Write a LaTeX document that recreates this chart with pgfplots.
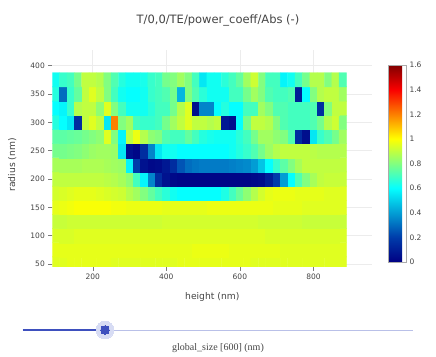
\documentclass[border=0pt]{standalone}
\usepackage{pgfplots}
\pgfplotsset{compat=1.18}
\usepackage{fontspec}
\setmainfont{DejaVu Sans}
\newfontfamily\seriffont{Liberation Serif}
\definecolor{txt}{RGB}{68,68,68}
\definecolor{gridc}{RGB}{236,236,236}
\definecolor{sliderdark}{RGB}{62,80,190}
\definecolor{sliderlight}{RGB}{185,192,232}
\definecolor{halo}{RGB}{215,220,244}
\begin{document}
\begin{tikzpicture}
\path[use as bounding box] (0,0) rectangle (436bp,-357bp);
\begin{axis}[
 at={(52.3bp,-266.8bp)}, anchor=south west,
 width=320bp, height=217bp, scale only axis,
 xmin=90, xmax=960, ymin=45, ymax=428,
 enlargelimits=false,
 xtick={200,400,600,800}, ytick={50,100,150,200,250,300,350,400},
 xtick pos=bottom, ytick pos=left,
 grid=major, major grid style={gridc, line width=0.6bp},
 axis line style={draw=none},
 tick align=outside, major tick length=4bp, tick style={txt!70, line width=0.5bp},
 ticklabel style={font=\fontsize{7.5bp}{9bp}\selectfont, text=txt},
 /pgf/number format/assume math mode=true,
 xlabel={height (nm)}, ylabel={radius (nm)},
 label style={font=\fontsize{9.2bp}{11bp}\selectfont, text=txt},
 xlabel style={at={(axis description cs:0.5,-0.138)}, anchor=center},
 ylabel style={at={(axis description cs:-0.125,0.47)}, anchor=center},
 colormap={pjet}{rgb255(0cm)=(0,0,131); rgb255(1cm)=(0,60,170); rgb255(3cm)=(5,255,255); rgb255(5cm)=(255,255,0); rgb255(7cm)=(250,0,0); rgb255(8cm)=(128,0,0)},
 point meta min=0, point meta max=1.6,
 colorbar,
 colorbar style={
   at={(parent axis.south east)}, anchor=south west, xshift=7.2bp, yshift=4.8bp,
   width=18bp, height=197bp, scale only axis,
   xlabel={}, ylabel={}, grid=none,
   ytick={0,0.2,0.4,0.6,0.8,1,1.2,1.4,1.6},
   yticklabels={0,0.2,0.4,0.6,0.8,1,1.2,1.4,1.6},
   major tick length=0pt,
   axis line style={draw=txt!45, line width=0.6bp},
   yticklabel style={font=\fontsize{7.5bp}{9bp}\selectfont, text=txt},
 },
]
\addplot[matrix plot*, mesh/cols=40, point meta=explicit] coordinates {
(100,50)[.95] (120,50)[.95] (140,50)[.96] (160,50)[.96] (180,50)[.96] (200,50)[.96] (220,50)[.96] (240,50)[.96] (260,50)[.95] (280,50)[.95]
(300,50)[.95] (320,50)[.95] (340,50)[.95] (360,50)[.95] (380,50)[.95] (400,50)[.95] (420,50)[.95] (440,50)[.96] (460,50)[.96] (480,50)[.96]
(500,50)[.96] (520,50)[.96] (540,50)[.96] (560,50)[.96] (580,50)[.96] (600,50)[.96] (620,50)[.96] (640,50)[.95] (660,50)[.95] (680,50)[.95]
(700,50)[.95] (720,50)[.95] (740,50)[.95] (760,50)[.95] (780,50)[.95] (800,50)[.95] (820,50)[.95] (840,50)[.95] (860,50)[.95] (880,50)[.95]

(100,75)[.96] (120,75)[.96] (140,75)[.96] (160,75)[.96] (180,75)[.96] (200,75)[.96] (220,75)[.96] (240,75)[.96] (260,75)[.96] (280,75)[.96]
(300,75)[.96] (320,75)[.96] (340,75)[.96] (360,75)[.96] (380,75)[.96] (400,75)[.96] (420,75)[.96] (440,75)[.96] (460,75)[.96] (480,75)[.97]
(500,75)[.97] (520,75)[.97] (540,75)[.97] (560,75)[.97] (580,75)[.96] (600,75)[.96] (620,75)[.96] (640,75)[.96] (660,75)[.96] (680,75)[.96]
(700,75)[.96] (720,75)[.95] (740,75)[.95] (760,75)[.95] (780,75)[.95] (800,75)[.95] (820,75)[.95] (840,75)[.95] (860,75)[.95] (880,75)[.95]

(100,100)[.94] (120,100)[.94] (140,100)[.94] (160,100)[.95] (180,100)[.95] (200,100)[.95] (220,100)[.95] (240,100)[.95] (260,100)[.95] (280,100)[.95]
(300,100)[.95] (320,100)[.95] (340,100)[.95] (360,100)[.95] (380,100)[.95] (400,100)[.95] (420,100)[.95] (440,100)[.95] (460,100)[.95] (480,100)[.95]
(500,100)[.95] (520,100)[.95] (540,100)[.95] (560,100)[.95] (580,100)[.95] (600,100)[.95] (620,100)[.95] (640,100)[.95] (660,100)[.95] (680,100)[.94]
(700,100)[.94] (720,100)[.94] (740,100)[.94] (760,100)[.94] (780,100)[.94] (800,100)[.94] (820,100)[.94] (840,100)[.94] (860,100)[.94] (880,100)[.94]

(100,125)[.91] (120,125)[.91] (140,125)[.92] (160,125)[.92] (180,125)[.92] (200,125)[.92] (220,125)[.92] (240,125)[.92] (260,125)[.92] (280,125)[.92]
(300,125)[.92] (320,125)[.92] (340,125)[.92] (360,125)[.92] (380,125)[.92] (400,125)[.93] (420,125)[.93] (440,125)[.93] (460,125)[.93] (480,125)[.93]
(500,125)[.93] (520,125)[.93] (540,125)[.93] (560,125)[.93] (580,125)[.93] (600,125)[.93] (620,125)[.93] (640,125)[.93] (660,125)[.92] (680,125)[.92]
(700,125)[.92] (720,125)[.92] (740,125)[.92] (760,125)[.92] (780,125)[.91] (800,125)[.91] (820,125)[.91] (840,125)[.91] (860,125)[.91] (880,125)[.91]

(100,150)[.96] (120,150)[.97] (140,150)[.98] (160,150)[.99] (180,150)[.99] (200,150)[.99] (220,150)[.99] (240,150)[.99] (260,150)[.98] (280,150)[.98]
(300,150)[.97] (320,150)[.97] (340,150)[.97] (360,150)[.97] (380,150)[.97] (400,150)[.96] (420,150)[.96] (440,150)[.96] (460,150)[.96] (480,150)[.96]
(500,150)[.96] (520,150)[.97] (540,150)[.97] (560,150)[.97] (580,150)[.97] (600,150)[.97] (620,150)[.97] (640,150)[.97] (660,150)[.97] (680,150)[.97]
(700,150)[.96] (720,150)[.96] (740,150)[.96] (760,150)[.96] (780,150)[.95] (800,150)[.95] (820,150)[.95] (840,150)[.95] (860,150)[.95] (880,150)[.95]

(100,175)[.93] (120,175)[.94] (140,175)[.95] (160,175)[.96] (180,175)[.96] (200,175)[.96] (220,175)[.95] (240,175)[.94] (260,175)[.93] (280,175)[.92]
(300,175)[.88] (320,175)[.85] (340,175)[.80] (360,175)[.75] (380,175)[.70] (400,175)[.66] (420,175)[.62] (440,175)[.60] (460,175)[.60] (480,175)[.60]
(500,175)[.60] (520,175)[.60] (540,175)[.60] (560,175)[.64] (580,175)[.70] (600,175)[.76] (620,175)[.82] (640,175)[.88] (660,175)[.93] (680,175)[.96]
(700,175)[.97] (720,175)[.97] (740,175)[.97] (760,175)[.96] (780,175)[.96] (800,175)[.96] (820,175)[.96] (840,175)[.95] (860,175)[.95] (880,175)[.95]

(100,200)[.90] (120,200)[.90] (140,200)[.90] (160,200)[.90] (180,200)[.90] (200,200)[.90] (220,200)[.90] (240,200)[.89] (260,200)[.88] (280,200)[.86]
(300,200)[.82] (320,200)[.70] (340,200)[.58] (360,200)[.35] (380,200)[.15] (400,200)[.06] (420,200)[.03] (440,200)[.02] (460,200)[.02] (480,200)[.02]
(500,200)[.02] (520,200)[.02] (540,200)[.02] (560,200)[.02] (580,200)[.02] (600,200)[.02] (620,200)[.02] (640,200)[.03] (660,200)[.04] (680,200)[.10]
(700,200)[.20] (720,200)[.40] (740,200)[.60] (760,200)[.72] (780,200)[.80] (800,200)[.86] (820,200)[.90] (840,200)[.91] (860,200)[.91] (880,200)[.91]

(100,225)[.86] (120,225)[.86] (140,225)[.86] (160,225)[.86] (180,225)[.87] (200,225)[.87] (220,225)[.87] (240,225)[.86] (260,225)[.85] (280,225)[.84]
(300,225)[.58] (320,225)[.20] (340,225)[.06] (360,225)[.03] (380,225)[.04] (400,225)[.08] (420,225)[.15] (440,225)[.25] (460,225)[.30] (480,225)[.32]
(500,225)[.33] (520,225)[.33] (540,225)[.33] (560,225)[.33] (580,225)[.34] (600,225)[.35] (620,225)[.36] (640,225)[.40] (660,225)[.48] (680,225)[.60]
(700,225)[.68] (720,225)[.74] (740,225)[.80] (760,225)[.86] (780,225)[.90] (800,225)[.90] (820,225)[.90] (840,225)[.90] (860,225)[.90] (880,225)[.90]

(100,250)[.78] (120,250)[.78] (140,250)[.79] (160,250)[.80] (180,250)[.82] (200,250)[.84] (220,250)[.85] (240,250)[.85] (260,250)[.84] (280,250)[.55]
(300,250)[.05] (320,250)[.02] (340,250)[.15] (360,250)[.35] (380,250)[.55] (400,250)[.62] (420,250)[.62] (440,250)[.60] (460,250)[.60] (480,250)[.60]
(500,250)[.60] (520,250)[.60] (540,250)[.60] (560,250)[.60] (580,250)[.62] (600,250)[.65] (620,250)[.68] (640,250)[.72] (660,250)[.78] (680,250)[.84]
(700,250)[.88] (720,250)[.90] (740,250)[.90] (760,250)[.90] (780,250)[.90] (800,250)[.89] (820,250)[.88] (840,250)[.88] (860,250)[.88] (880,250)[.88]

(100,275)[.74] (120,275)[.74] (140,275)[.75] (160,275)[.76] (180,275)[.78] (200,275)[.80] (220,275)[.82] (240,275)[.95] (260,275)[.80] (280,275)[.58]
(300,275)[.90] (320,275)[.97] (340,275)[.88] (360,275)[.82] (380,275)[.80] (400,275)[.72] (420,275)[.70] (440,275)[.70] (460,275)[.75] (480,275)[.70]
(500,275)[.65] (520,275)[.63] (540,275)[.62] (560,275)[.62] (580,275)[.62] (600,275)[.66] (620,275)[.70] (640,275)[.78] (660,275)[.85] (680,275)[.85]
(700,275)[.82] (720,275)[.80] (740,275)[.72] (760,275)[.15] (780,275)[.05] (800,275)[.55] (820,275)[.68] (840,275)[.72] (860,275)[.78] (880,275)[.85]

(100,300)[.65] (120,300)[.60] (140,300)[.55] (160,300)[.15] (180,300)[.90] (200,300)[.95] (220,300)[.90] (240,300)[.55] (260,300)[1.2] (280,300)[.80]
(300,300)[.85] (320,300)[.70] (340,300)[.68] (360,300)[.68] (380,300)[.70] (400,300)[.78] (420,300)[.85] (440,300)[.90] (460,300)[.95] (480,300)[.90]
(500,300)[.90] (520,300)[.88] (540,300)[.90] (560,300)[.08] (580,300)[.05] (600,300)[.60] (620,300)[.78] (640,300)[.90] (660,300)[.90] (680,300)[.88]
(700,300)[.80] (720,300)[.72] (740,300)[.70] (760,300)[.70] (780,300)[.70] (800,300)[.72] (820,300)[.78] (840,300)[.88] (860,300)[.92] (880,300)[.80]

(100,325)[.60] (120,325)[.58] (140,325)[.68] (160,325)[.88] (180,325)[.90] (200,325)[.90] (220,325)[.82] (240,325)[.95] (260,325)[.80] (280,325)[.70]
(300,325)[.62] (320,325)[.62] (340,325)[.62] (360,325)[.66] (380,325)[.70] (400,325)[.70] (420,325)[.78] (440,325)[.88] (460,325)[.95] (480,325)[.05]
(500,325)[.35] (520,325)[.35] (540,325)[.60] (560,325)[.65] (580,325)[.60] (600,325)[.60] (620,325)[.70] (640,325)[.70] (660,325)[.85] (680,325)[.80]
(700,325)[.72] (720,325)[.72] (740,325)[.70] (760,325)[.70] (780,325)[.70] (800,325)[.72] (820,325)[.15] (840,325)[.80] (860,325)[.90] (880,325)[.90]

(100,350)[.65] (120,350)[.30] (140,350)[.68] (160,350)[.75] (180,350)[.90] (200,350)[.95] (220,350)[.90] (240,350)[.80] (260,350)[.70] (280,350)[.62]
(300,350)[.60] (320,350)[.60] (340,350)[.62] (360,350)[.68] (380,350)[.70] (400,350)[.72] (420,350)[.78] (440,350)[.45] (460,350)[.80] (480,350)[.72]
(500,350)[.66] (520,350)[.62] (540,350)[.62] (560,350)[.62] (580,350)[.70] (600,350)[.70] (620,350)[.78] (640,350)[.85] (660,350)[.80] (680,350)[.72]
(700,350)[.70] (720,350)[.70] (740,350)[.72] (760,350)[.10] (780,350)[.60] (800,350)[.80] (820,350)[.88] (840,350)[.90] (860,350)[.90] (880,350)[.85]

(100,375)[.62] (120,375)[.68] (140,375)[.70] (160,375)[.78] (180,375)[.90] (200,375)[.90] (220,375)[.88] (240,375)[.80] (260,375)[.72] (280,375)[.65]
(300,375)[.62] (320,375)[.62] (340,375)[.63] (360,375)[.68] (380,375)[.70] (400,375)[.78] (420,375)[.80] (440,375)[.85] (460,375)[.80] (480,375)[.70]
(500,375)[.55] (520,375)[.62] (540,375)[.62] (560,375)[.66] (580,375)[.70] (600,375)[.75] (620,375)[.85] (640,375)[.92] (660,375)[.80] (680,375)[.70]
(700,375)[.70] (720,375)[.58] (740,375)[.62] (760,375)[.70] (780,375)[.78] (800,375)[.88] (820,375)[.88] (840,375)[.80] (860,375)[.88] (880,375)[.72]
};
\end{axis}
\begin{axis}[
 at={(22.7bp,-330bp)}, anchor=west,
 width=390.3bp, height=10bp, scale only axis,
 xmin=0, xmax=390.3, ymin=-1, ymax=1,
 hide axis, clip=false,
]
\addplot[sliderlight, line width=1bp, mark=none] coordinates {(0,0) (390.3,0)};
\addplot[sliderdark, line width=1.3bp, mark=none] coordinates {(0,0) (82.3,0)};
\addplot[only marks, mark=*, mark size=8.8bp, mark options={draw=halo, fill=halo, line width=0pt}] coordinates {(82.3,0)};
\addplot[only marks, mark=*, mark size=4.3bp, mark options={draw=sliderdark, fill=sliderdark, line width=0pt}] coordinates {(82.3,0)};
\end{axis}
\node[font=\fontsize{11.5bp}{13bp}\selectfont, text=txt] at (218bp,-20bp) {T/0,0/TE/power\_coeff/Abs (-)};
\node[font=\seriffont\fontsize{10bp}{12bp}\selectfont, text=txt] at (218bp,-348bp) {global\_size [600] (nm)};
\end{tikzpicture}
\end{document}
